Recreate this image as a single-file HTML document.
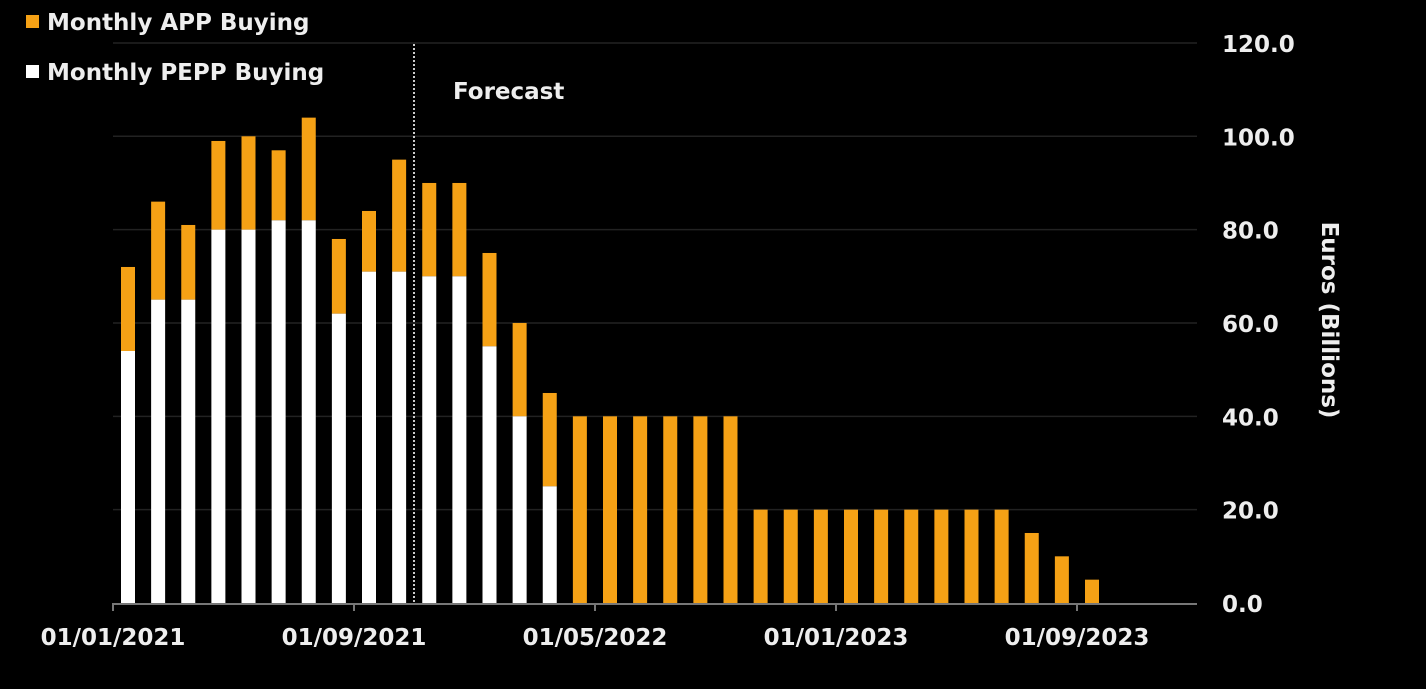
<!DOCTYPE html>
<html><head><meta charset="utf-8"><style>
html,body{margin:0;padding:0;background:#000;}
svg{display:block;font-family:"DejaVu Sans","Liberation Sans",sans-serif;font-weight:bold;}
</style></head><body>
<svg id="chart" width="1426" height="689">
<rect width="1426" height="689" fill="#000"/>
<g id="grid"></g><g id="bars"></g><g id="axes"></g>
<g>
<rect x="26" y="15" width="13" height="13" fill="#f5a115"/>
<text x="47" y="30" fill="#eee" font-size="23">Monthly APP Buying</text>
<rect x="26" y="65" width="13" height="13" fill="#fff"/>
<text x="47" y="80" fill="#eee" font-size="23">Monthly PEPP Buying</text>
</g>
<line x1="414" y1="44" x2="414" y2="603" stroke="#ccc" stroke-width="2" stroke-dasharray="2,2"/>
<text x="453" y="99" fill="#eee" font-size="23">Forecast</text>
<text transform="translate(1322,320) rotate(90)" text-anchor="middle" fill="#eee" font-size="23">Euros (Billions)</text>
</svg>
<script>
const totals=[72,86,81,99,100,97,104,78,84,95,90,90,75,60,45,40,40,40,40,40,40,20,20,20,20,20,20,20,20,20,15,10,5];
const pepp=[54,65,65,80,80,82,82,62,71,71,70,70,55,40,25,0,0,0,0,0,0,0,0,0,0,0,0,0,0,0,0,0,0];
const yTicks=[0,20,40,60,80,100,120];
const xTickLabels=["01/01/2021","01/09/2021","01/05/2022","01/01/2023","01/09/2023"];
const xTickIdx=[0,8,16,24,32];
const NS="http://www.w3.org/2000/svg";
const x0=113,x1=1197,mw=30.125,y0=603,py=4.667;
const X=i=>x0+i*mw, Y=v=>y0-v*py;
const grid=document.getElementById('grid'),bars=document.getElementById('bars'),axes=document.getElementById('axes');
function mk(tag,attrs,parent){const e=document.createElementNS(NS,tag);for(const k in attrs)e.setAttribute(k,attrs[k]);parent.appendChild(e);return e;}
yTicks.forEach(v=>{
 if(v>0){const l=mk('line',{x1:x0,x2:x1,y1:Y(v),y2:Y(v),stroke:'#222','stroke-width':1.5},grid);
 
 }
 const t=mk('text',{x:1222,y:Y(v)+9,fill:'#eee','font-size':23},axes);t.textContent=v.toFixed(1);
 
 
});
totals.forEach((tot,i)=>{
 const cx=X(i)+15,w=14,p=pepp[i];
 const a=mk('rect',{x:cx-w/2,y:Y(tot),width:w,height:Y(p)-Y(tot),fill:'#f5a115'},bars);
 
 
 if(p>0){const b=mk('rect',{x:cx-w/2,y:Y(p),width:w,height:y0-Y(p),fill:'#fff'},bars);
 
 }
});
const ax=mk('line',{x1:x0,x2:x1,y1:y0+1,y2:y0+1,stroke:'#777','stroke-width':2},axes);


xTickIdx.forEach((idx,k)=>{
 const tk=mk('line',{x1:X(idx),x2:X(idx),y1:y0,y2:y0+8,stroke:'#777','stroke-width':2},axes);
 
 
 const t=mk('text',{x:X(idx),y:645,fill:'#eee','font-size':23,'text-anchor':'middle'},axes);t.textContent=xTickLabels[k];
 
 
});
</script>
</body></html>
